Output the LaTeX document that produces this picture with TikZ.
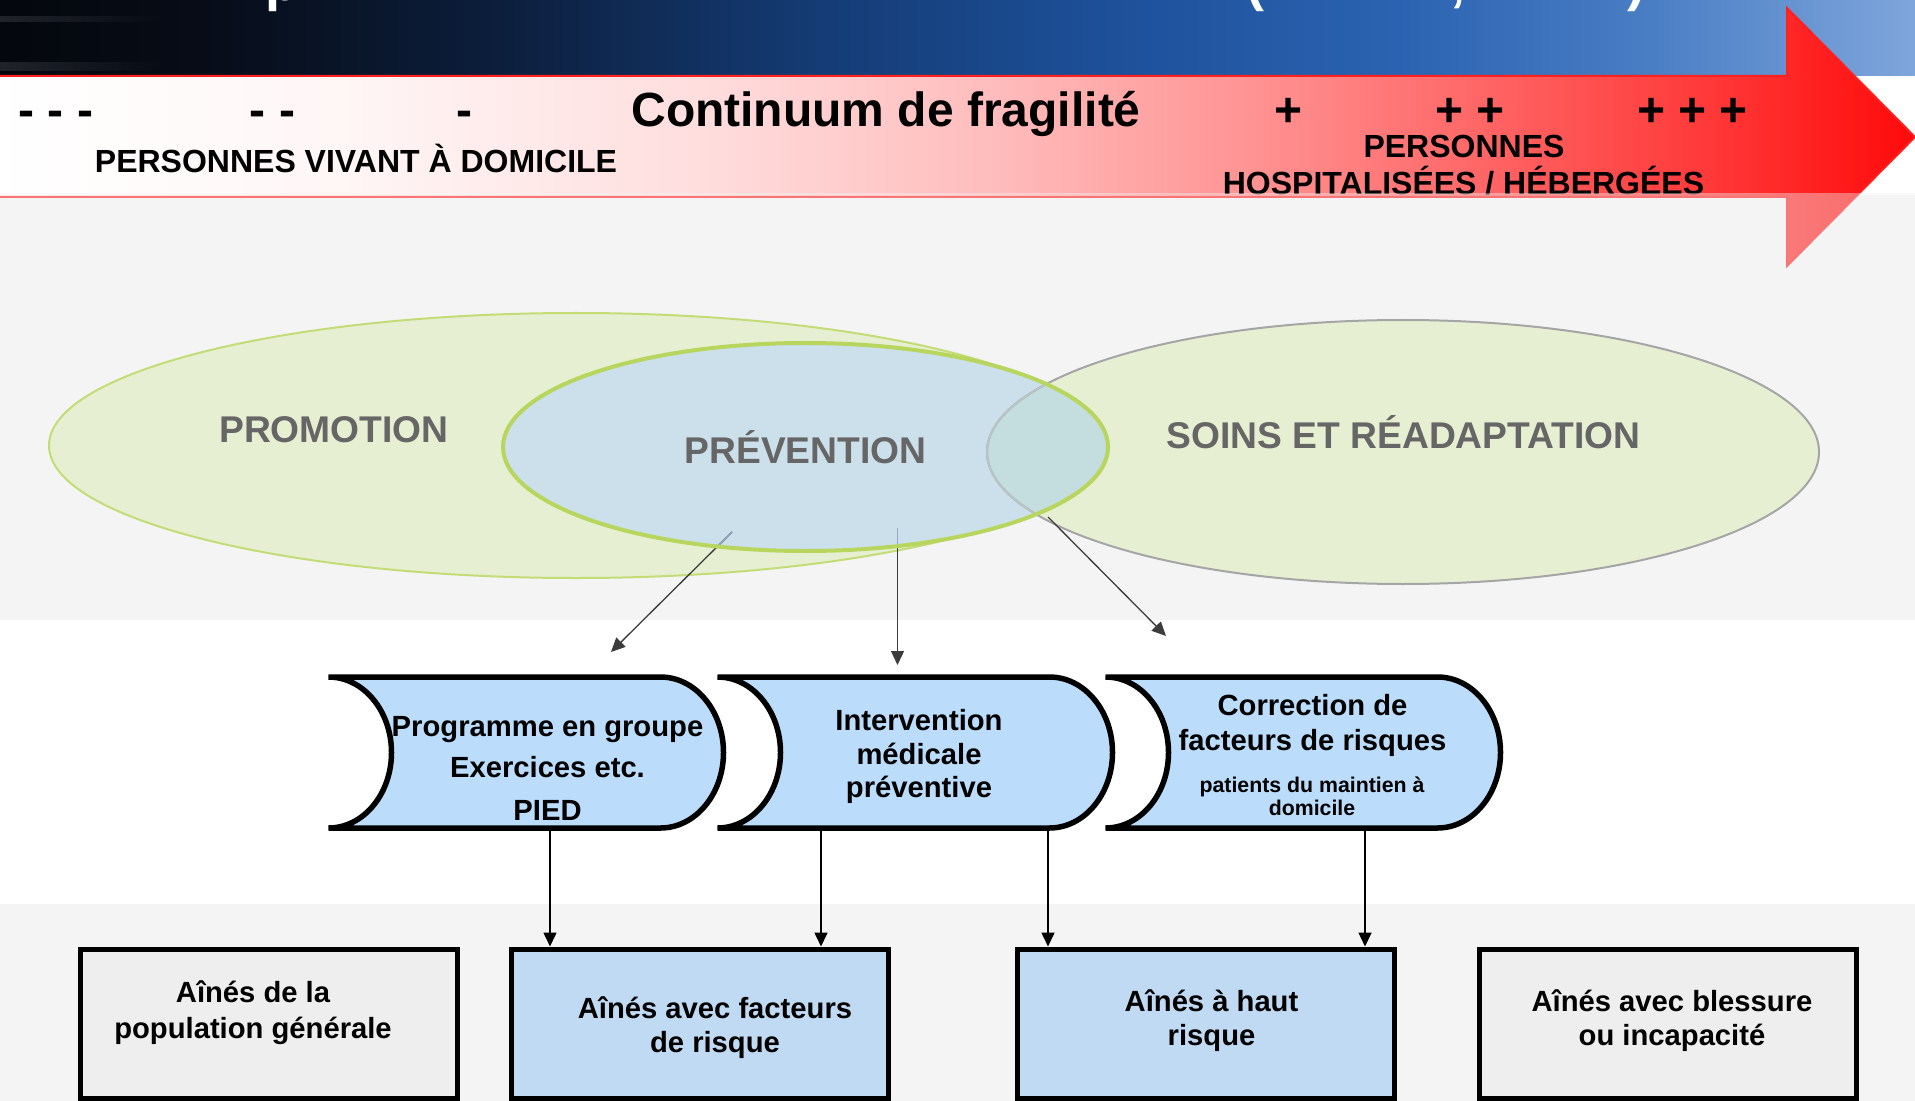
\documentclass[tikz,border=0pt]{standalone}
\usepackage{fontspec}
\setmainfont{Liberation Sans}
\usetikzlibrary{arrows.meta,fadings}

\definecolor{tb0}{HTML}{04070D}
\definecolor{tb1}{HTML}{070C17}
\definecolor{tb2}{HTML}{0C1E3C}
\definecolor{tb3}{HTML}{143A72}
\definecolor{tb4}{HTML}{1D4F98}
\definecolor{tb5}{HTML}{2B63B2}
\definecolor{tb6}{HTML}{4A7EC4}
\definecolor{tb7}{HTML}{7FA6DC}
\definecolor{ar0}{HTML}{FFFFFF}
\definecolor{ar1}{HTML}{FFF6F6}
\definecolor{ar2}{HTML}{FFDEDE}
\definecolor{ar3}{HTML}{FFBCBC}
\definecolor{ar4}{HTML}{FF9494}
\definecolor{ar5}{HTML}{FF6262}
\definecolor{ar6}{HTML}{FF3030}
\definecolor{ar7}{HTML}{FF0A0A}
\definecolor{arrowred}{HTML}{FF2020}
\definecolor{streak}{HTML}{34373E}
\definecolor{bggray}{HTML}{F4F4F4}
\definecolor{promfill}{HTML}{E7EFD2}
\definecolor{promline}{HTML}{C3DC76}
\definecolor{prevfill}{HTML}{CBE0EA}
\definecolor{prevline}{HTML}{B8D65E}
\definecolor{soinsfill}{HTML}{E7EFD2}
\definecolor{soinsline}{HTML}{A5A5A5}
\definecolor{overlapc}{HTML}{C4DDDE}
\definecolor{labelgray}{HTML}{666666}
\definecolor{chevfill}{HTML}{BBDDFB}
\definecolor{boxblue}{HTML}{C0DAF3}
\definecolor{boxgray}{HTML}{EEEEEE}
\definecolor{congray}{HTML}{3C3C3C}
\definecolor{conlightc}{HTML}{93A9C4}

\pgfdeclarehorizontalshading{topband}{100bp}{color(0bp)=(tb0); color(25bp)=(tb0); color(30.2bp)=(tb1); color(38bp)=(tb2); color(45.9bp)=(tb3); color(53.7bp)=(tb4); color(61.5bp)=(tb5); color(68.1bp)=(tb6); color(75bp)=(tb7); color(100bp)=(tb7)}
\pgfdeclarehorizontalshading{arrowshade}{100bp}{color(0bp)=(ar0); color(25bp)=(ar0); color(34.1bp)=(ar1); color(43.3bp)=(ar2); color(51.1bp)=(ar3); color(57.6bp)=(ar4); color(64.2bp)=(ar5); color(70.7bp)=(ar6); color(75bp)=(ar7); color(100bp)=(ar7)}

\tikzset{
  lbl/.style={inner sep=0pt, outer sep=0pt, anchor=base},
  ttl/.style={lbl, font=\fontsize{24pt}{28pt}\selectfont\bfseries},
  band/.style={lbl, font=\fontsize{16pt}{19pt}\selectfont\bfseries},
  ell/.style={lbl, text=labelgray, font=\fontsize{18.6pt}{22pt}\selectfont\bfseries},
  boxtxt/.style={lbl, font=\fontsize{14.6pt}{17pt}\selectfont\bfseries},
  smalltxt/.style={lbl, font=\fontsize{10.65pt}{13pt}\selectfont\bfseries},
  frag/.style={inner sep=0pt, outer sep=0pt, anchor=base west, text=white, font=\fontsize{27pt}{30pt}\selectfont\bfseries},
  chevnode/.style={inner sep=0pt, outer sep=0pt, minimum width=197.5pt, minimum height=75.5pt},
  chev/.style={draw=black, line width=2.75pt, fill=chevfill},
  popbox/.style={draw=black, line width=2.5pt, inner sep=0pt, minimum width=188.5pt, minimum height=74.75pt},
  conn/.style={draw=congray, line width=0.65pt, -{Triangle[length=7pt,width=6.5pt]}},
  conlight/.style={draw=conlightc, line width=0.65pt},
  botconn/.style={draw=black, line width=0.8pt, -{Triangle[length=7pt,width=6.5pt]}},
}

\begin{document}
\begin{tikzpicture}[x=0.5pt,y=-0.5pt]
\useasboundingbox (0,0) rectangle (1915,1101);

% ---------- backgrounds ----------
\shade[shading=topband] (0,0) rectangle (1915,76);
\fill[streak, opacity=.6, path fading=east] (0,16) rectangle (165,22);
\fill[streak, opacity=.6, path fading=east] (0,62) rectangle (165,71);
\fill[white] (0,76) rectangle (1915,195);
\fill[bggray] (0,195) rectangle (1915,620);
\fill[white] (0,620) rectangle (1915,904);
\fill[bggray] (0,904) rectangle (1915,1101);

% title fragments cut off at the top
\node[frag] (t1) at (265,0.5) {p};
\node[frag] (t2) at (1246,0.5) {(};
\node[frag] (t3) at (1450,0.5) {,};
\node[frag] (t4) at (1627,0.5) {)};

% ---------- continuum arrow ----------
\shadedraw[shading=arrowshade, draw=arrowred, line width=1pt]
  (-10,76) -- (1787,76) -- (1787,8) -- (1915,137) -- (1787,266) -- (1787,197) -- (-10,197) -- cycle;

\node[ttl] (d3) at (56,126.5) {- - -};
\node[ttl] (d2) at (272.5,126.5) {- -};
\node[ttl] (d1) at (464,126.5) {-};
\node[ttl] (title) at (886,126.5) {Continuum de fragilité};
\node[ttl] (p1s) at (1288,126.5) {+};
\node[ttl] (p2s) at (1470,126.5) {+ +};
\node[ttl] (p3s) at (1692.5,126.5) {+ + +};
\node[band] (dom) at (356,172.5) {PERSONNES VIVANT À DOMICILE};
\node[band] (hosa) at (1464,158) {PERSONNES};
\node[band] (hosb) at (1463.5,195) {HOSPITALISÉES / HÉBERGÉES};

% veil over the lower part
\fill[bggray, opacity=0.4] (0,193) rectangle (1915,620);

% ---------- ellipses ----------
\filldraw[fill=promfill, draw=promline, line width=1pt] (576,445.5) ellipse [x radius=263.5pt, y radius=66.25pt];
\fill[soinsfill] (1403,452) ellipse [x radius=208pt, y radius=66pt];
\fill[prevfill] (805.5,447) ellipse [x radius=151.25pt, y radius=52pt];
\begin{scope}
  \clip (1403,452) ellipse [x radius=208pt, y radius=66pt];
  \fill[overlapc] (805.5,447) ellipse [x radius=151.25pt, y radius=52pt];
\end{scope}
\draw[soinsline, line width=1pt] (1403,452) ellipse [x radius=208pt, y radius=66pt];
\begin{scope}
  \clip (805.5,447) ellipse [x radius=151.25pt, y radius=52pt];
  \draw[soinsline!50!prevfill, line width=1pt] (1403,452) ellipse [x radius=208pt, y radius=66pt];
\end{scope}

% connectors from the ellipses
\coordinate (c1s) at (732,532);
\coordinate (c1e) at (611,652);
\coordinate (c2s) at (897.5,528);
\coordinate (c2e) at (897.5,665);
\coordinate (c3s) at (1048,517);
\coordinate (c3e) at (1166,636);
\draw[conn] (c1s) -- (c1e);
\draw[conn] (c2s) -- (c2e);
\draw[conn] (c3s) -- (c3e);
\begin{scope}
  \clip (805.5,447) ellipse [x radius=151.25pt, y radius=52pt];
  \draw[conlight] (c1s) -- (c1e);
  \draw[conlight] (c2s) -- (c2e);
\end{scope}

\draw[prevline, line width=2pt] (805.5,447) ellipse [x radius=151.25pt, y radius=52pt];

\node[ell] (promo) at (334,442) {PROMOTION};
\node[ell] (prev) at (805.5,463) {PRÉVENTION};
\node[ell] (soins) at (1403.5,448) {SOINS ET RÉADAPTATION};

% ---------- process shapes ----------
\node[chevnode] (p1) at (526,752.5) {};
\node[chevnode] (p2) at (915,752.5) {};
\node[chevnode] (p3) at (1303,752.5) {};
\foreach \n in {p1,p2,p3}{
  \draw[chev] (\n.north west) -- ([xshift=-31.5pt]\n.north east)
     arc[start angle=90, end angle=-90, x radius=31.5pt, y radius=37.75pt]
     -- (\n.south west)
     arc[start angle=-90, end angle=90, x radius=31.5pt, y radius=37.75pt] -- cycle;
}

\node[boxtxt] (p1a) at (547.5,736.5) {Programme en groupe};
\node[boxtxt] (p1b) at (547.5,777) {Exercices etc.};
\node[boxtxt] (p1c) at (547.5,820) {PIED};
\node[boxtxt] (p2a) at (919,730) {Intervention};
\node[boxtxt] (p2b) at (919,764.5) {médicale};
\node[boxtxt] (p2c) at (919,797) {préventive};
\node[boxtxt] (p3a) at (1312.5,715) {Correction de};
\node[boxtxt] (p3b) at (1312.5,750) {facteurs de risques};
\node[smalltxt] (p3c) at (1312,792) {patients du maintien à};
\node[smalltxt] (p3d) at (1312,815) {domicile};

% ---------- population boxes ----------
\node[popbox, fill=boxgray] (bA) at (269,1023.75) {};
\node[popbox, fill=boxblue] (bB) at (700,1023.75) {};
\node[popbox, fill=boxblue] (bC) at (1205.5,1023.75) {};
\node[popbox, fill=boxgray] (bD) at (1667.5,1023.75) {};

\node[boxtxt] (bAa) at (253,1002) {Aînés de la};
\node[boxtxt] (bAb) at (253,1038) {population générale};
\node[boxtxt] (bBa) at (715,1018) {Aînés avec facteurs};
\node[boxtxt] (bBb) at (715,1052) {de risque};
\node[boxtxt] (bCa) at (1211.5,1011.5) {Aînés à haut};
\node[boxtxt] (bCb) at (1211.5,1045) {risque};
\node[boxtxt] (bDa) at (1672,1011) {Aînés avec blessure};
\node[boxtxt] (bDb) at (1672,1045) {ou incapacité};

% ---------- connectors to the population boxes ----------
\coordinate (xa) at (550,0);
\coordinate (xb) at (821,0);
\coordinate (xc) at (1048,0);
\coordinate (xd) at (1365,0);
\draw[botconn] (xa |- p1.south) -- (xa |- bB.north);
\draw[botconn] (xb |- p2.south) -- (xb |- bB.north);
\draw[botconn] (xc |- p2.south) -- (xc |- bC.north);
\draw[botconn] (xd |- p3.south) -- (xd |- bC.north);
\end{tikzpicture}
\end{document}
